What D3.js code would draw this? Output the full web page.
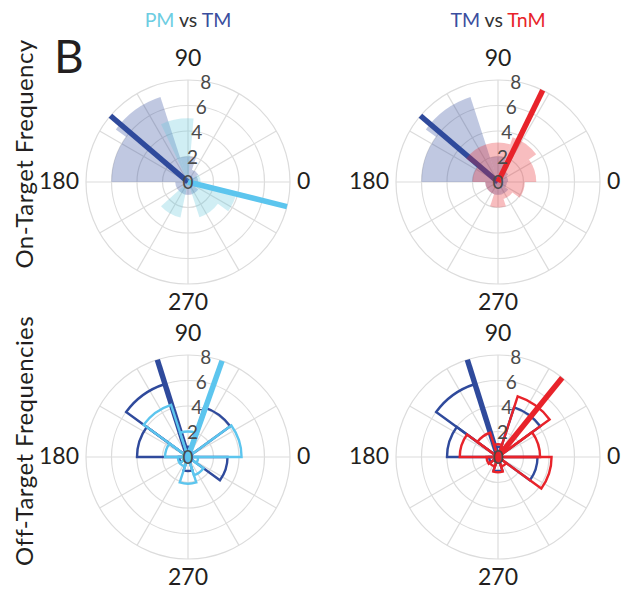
<!DOCTYPE html>
<html>
<head>
<meta charset="utf-8">
<script src="https://cdn.jsdelivr.net/npm/d3@7"></script>
<style>
  body { margin: 0; background: #fff; }
  svg { font-family: Lato, "Open Sans", sans-serif; }
</style>
</head>
<body>
<svg id="chart" width="621" height="591"></svg>
<script>
//// DATA
// bins are [fromDeg, toDeg, count], angles counter-clockwise from 0 (east)

const tmOn  = [[0,36,0.8],[36,72,1],[72,108,2],[108,144,7],[144,180,6],[180,216,1],[216,252,1],[252,288,1],[288,324,1],[324,360,0.7]]
const pmOn  = [[0,36,1],[85,115,5],[222,258,2.85],[288,324,2.9],[324,348,3.9]]
const tnmOn = [[0,36,3],[36,72,3.7],[72,108,3.1],[108,144,3.1],[144,180,2],[180,216,1],[216,252,1],[252,288,2],[288,324,1.4],[324,360,2.1]]

const tmOff  = [[0,36,0.3],[36,72,4.1],[72,108,0.8],[108,144,6],[144,180,4],[180,216,0.7],[216,252,0.4],[252,288,1.1],[288,324,0.4],[324,360,3.1]]
const pmOff  = [[0,36,4.2],[36,72,0.5],[72,108,2],[108,144,4.3],[144,180,1.8],[180,216,0.8],[216,252,0.8],[252,288,2.1],[288,324,1.5],[324,360,0.8]]
const tnmOff = [[0,36,3.3],[36,72,5],[72,108,1],[108,144,2],[144,180,3],[180,216,0.9],[216,252,0.8],[252,288,1.2],[288,324,0.8],[324,360,4.2]]

// mean direction of each group (degrees)
const tmOnMean = 139.5, pmOnMean = -14, tnmOnMean = 64
const tmOffMean = 107.5, pmOffMean = 70.5, tnmOffMean = 51

const rTicks = [0, 2, 4, 6, 8]
const spokes = d3.range(0, 360, 30)
const angleLabels = ["0", "90", "180", "270"]

//// STYLE
const tmColor = "#2f4a9c"
const pmColor = "#5cc5ee"
const tnmColor = "#e8232a"
const gridColor = "#dcdcdc"

const svg = d3.select("#chart")
const rad = d3.scaleLinear().domain([0, 8]).range([0, 102])
const toRad = deg => deg * Math.PI / 180

// d3.arc measures from 12 o'clock clockwise, so flip the math angles
const wedge = d3.arc()
  .innerRadius(0)
  .outerRadius(d => rad(d[2]))
  .startAngle(d => toRad(90 - d[1]))
  .endAngle(d => toRad(90 - d[0]))

const panels = [
  {cx: 188, cy: 182, mode: "fill",
   series: [{bins: tmOn, color: tmColor, mean: tmOnMean}, {bins: pmOn, color: "#64c8dc", line: pmColor, mean: pmOnMean}]},
  {cx: 498, cy: 182, mode: "fill",
   series: [{bins: tmOn, color: tmColor, mean: tmOnMean}, {bins: tnmOn, color: tnmColor, mean: tnmOnMean}]},
  {cx: 188, cy: 457, mode: "stroke",
   series: [{bins: tmOff, color: tmColor, mean: tmOffMean}, {bins: pmOff, color: pmColor, mean: pmOffMean}]},
  {cx: 498, cy: 457, mode: "stroke",
   series: [{bins: tmOff, color: tmColor, mean: tmOffMean}, {bins: tnmOff, color: tnmColor, mean: tnmOffMean}]},
]

function drawPanel(p) {
  const g = svg.append("g").attr("transform", `translate(${p.cx},${p.cy})`)

  // grid rings and spokes
  g.selectAll(".ring")
    .data(rTicks.filter(t => t > 0))
    .join("circle")
    .attr("r", d => rad(d))
    .attr("fill", "none")
    .attr("stroke", gridColor)
    .attr("stroke-width", 1.2)

  g.selectAll(".spoke")
    .data(spokes)
    .join("line")
    .attr("x2", d => rad(8) * Math.cos(toRad(d)))
    .attr("y2", d => -rad(8) * Math.sin(toRad(d)))
    .attr("stroke", gridColor)
    .attr("stroke-width", 1.2)

  // histogram then mean line, for each series in turn
  p.series.forEach(s => {
    const bars = g.append("g").selectAll("path")
      .data(s.bins)
      .join("path")
      .attr("d", wedge)

    if (p.mode == "fill")
      bars.attr("fill", s.color).attr("fill-opacity", 0.3).attr("stroke", "none")
    else
      bars.attr("fill", "none").attr("stroke", s.color).attr("stroke-width", 2.4).attr("stroke-linejoin", "miter")

    g.append("line")
      .attr("x2", rad(8) * Math.cos(toRad(s.mean)))
      .attr("y2", -rad(8) * Math.sin(toRad(s.mean)))
      .attr("stroke", s.line || s.color)
      .attr("stroke-width", 5.5)
  })

  // radial tick labels along 80 deg
  g.selectAll(".rlabel")
    .data(rTicks)
    .join("text")
    .attr("x", d => rad(d) * Math.cos(toRad(80)))
    .attr("y", d => -rad(d) * Math.sin(toRad(80)) + 7)
    .attr("text-anchor", "middle")
    .attr("font-size", 19)
    .attr("fill", "#4a4a4a")
    .text(d => d)

  // angle labels
  const R = rad(8)
  const pos = [
    {x: R + 7, y: 7, anchor: "start"},
    {x: 0, y: -R - 14, anchor: "middle"},
    {x: -R - 7, y: 7, anchor: "end"},
    {x: 0, y: R + 26, anchor: "middle"},
  ]
  g.selectAll(".alabel")
    .data(angleLabels)
    .join("text")
    .attr("x", (d, i) => pos[i].x)
    .attr("y", (d, i) => pos[i].y)
    .attr("text-anchor", (d, i) => pos[i].anchor)
    .attr("font-size", 23)
    .attr("fill", "#231f20")
    .text(d => d)
}

panels.forEach(drawPanel)

// column titles
function title(x, parts) {
  const t = svg.append("text")
    .attr("x", x).attr("y", 27)
    .attr("text-anchor", "middle")
    .attr("font-size", 19.5)
  parts.forEach(([txt, col]) => t.append("tspan").attr("fill", col).text(txt))
}
title(188, [["PM", "#6dcde2"], [" vs ", "#333"], ["TM", "#3a4e9e"]])
title(498, [["TM", "#3a4e9e"], [" vs ", "#333"], ["TnM", tnmColor]])

// row labels
svg.selectAll(".rowlabel")
  .data([["On-Target Frequency", 154], ["Off-Target Frequencies", 441]])
  .join("text")
  .attr("transform", d => `translate(33,${d[1]}) rotate(-90)`)
  .attr("text-anchor", "middle")
  .attr("font-size", 24)
  .attr("letter-spacing", 0.4)
  .attr("fill", "#231f20")
  .text(d => d[0])

svg.append("text")
  .attr("x", 54).attr("y", 73)
  .attr("font-size", 46)
  .attr("fill", "#231f20")
  .text("B")
</script>
</body>
</html>
